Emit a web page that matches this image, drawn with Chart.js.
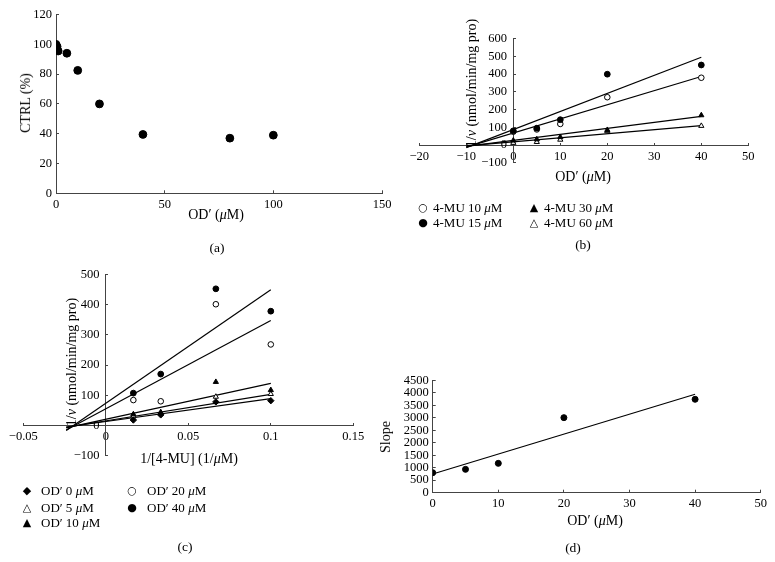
<!DOCTYPE html>
<html><head><meta charset="utf-8">
<script src="https://cdn.jsdelivr.net/npm/chart.js@4/dist/chart.umd.min.js"></script>
<style>
body{margin:0;background:#fff;}
#wrap{position:relative;width:775px;height:562px;overflow:hidden;font-family:"Liberation Serif","Times New Roman",serif;color:#000;}
canvas{position:absolute;left:0;top:0;}
.t{position:absolute;white-space:nowrap;font-size:14px;line-height:1;transform:translate(-50%,-50%);}
.r{transform:translate(-50%,-50%) rotate(-90deg);}
.lg{position:absolute;white-space:nowrap;font-size:13px;line-height:1;transform:translateY(-50%);}
.m{position:absolute;font-family:"DejaVu Sans";font-size:11px;line-height:1;transform:translate(-50%,-50%);}
</style></head>
<body>
<div id="wrap">
<canvas id="ca" width="775" height="562"></canvas>
<canvas id="cb" width="775" height="562"></canvas>
<canvas id="cc" width="775" height="562"></canvas>
<canvas id="cd" width="775" height="562"></canvas>

<div class="t r" style="left:26px;top:103px;">CTRL (%)</div>
<div class="t" style="left:216px;top:215px;">OD′ (<i>μ</i>M)</div>
<div class="t" style="left:217px;top:248px;font-size:13.5px;">(a)</div>

<div class="t r" style="left:472px;top:83px;">1/<i>v</i> (nmol/min/mg pro)</div>
<div class="t" style="left:583px;top:177px;">OD′ (<i>μ</i>M)</div>
<div class="t" style="left:583px;top:245px;font-size:13.5px;">(b)</div>
<span class="m" style="left:423px;top:207px;">○</span><span class="lg" style="left:433px;top:207px;">4-MU 10 <i>μ</i>M</span>
<span class="m" style="left:423px;top:222px;">●</span><span class="lg" style="left:433px;top:222px;">4-MU 15 <i>μ</i>M</span>
<span class="m" style="left:534px;top:207px;">▲</span><span class="lg" style="left:544px;top:207px;">4-MU 30 <i>μ</i>M</span>
<span class="m" style="left:534px;top:222px;">△</span><span class="lg" style="left:544px;top:222px;">4-MU 60 <i>μ</i>M</span>

<div class="t r" style="left:72px;top:362px;">1/<i>v</i> (nmol/min/mg pro)</div>
<div class="t" style="left:189px;top:459px;">1/[4-MU] (1/<i>μ</i>M)</div>
<div class="t" style="left:185px;top:547px;font-size:13.5px;">(c)</div>
<span class="m" style="left:27px;top:490px;">◆</span><span class="lg" style="left:41px;top:490px;">OD′ 0 <i>μ</i>M</span>
<span class="m" style="left:27px;top:507px;">△</span><span class="lg" style="left:41px;top:507px;">OD′ 5 <i>μ</i>M</span>
<span class="m" style="left:27px;top:522px;">▲</span><span class="lg" style="left:41px;top:522px;">OD′ 10 <i>μ</i>M</span>
<span class="m" style="left:132px;top:490px;">○</span><span class="lg" style="left:147px;top:490px;">OD′ 20 <i>μ</i>M</span>
<span class="m" style="left:132px;top:507px;">●</span><span class="lg" style="left:147px;top:507px;">OD′ 40 <i>μ</i>M</span>

<div class="t r" style="left:386px;top:437px;">Slope</div>
<div class="t" style="left:595px;top:521px;">OD′ (<i>μ</i>M)</div>
<div class="t" style="left:573px;top:548px;font-size:13.5px;">(d)</div>
</div>
<script>
// ---------- Panel (a) ----------
const odA = [0, 0.5, 1, 5, 10, 20, 40, 80, 100];
const ctrlA = [100, 98.5, 95.5, 94, 82.5, 60, 39.5, 37, 39];
const xTicksA = [0, 50, 100, 150];
const xLabelsA = ['0', '50', '100', '150'];
const yTicksA = [0, 20, 40, 60, 80, 100, 120];
const yLabelsA = ['0', '20', '40', '60', '80', '100', '120'];

// ---------- Panel (b) ----------
const odB = [0, 5, 10, 20, 40];
const mu10B = [75, 88, 119, 270, 380];
const mu15B = [80, 95, 143, 400, 452];
const mu30B = [25, 32, 45, 85, 168];
const mu60B = [12, 17, 30, 78, 108];
const fitXB = [-10, 40];
const fit10B = [-12, 387];
const fit15B = [-15, 496];
const fit30B = [-8, 162];
const fit60B = [-5, 110];
const xTicksB = [-20, -10, 0, 10, 20, 30, 40, 50];
const xLabelsB = ['−20', '−10', '0', '10', '20', '30', '40', '50'];
const yTicksB = [-100, 0, 100, 200, 300, 400, 500, 600];
const yLabelsB = ['−100', '0', '100', '200', '300', '400', '500', '600'];

// ---------- Panel (c) ----------
const invMuC = [0.0167, 0.0333, 0.0667, 0.1];
const od0C = [18, 35, 78, 82];
const od5C = [30, 40, 95, 104];
const od10C = [37, 44, 144, 117];
const od20C = [84, 80, 401, 268];
const od40C = [107, 170, 452, 378];
const fitXC = [-0.024, 0.1];
const fit0C = [-5, 89];
const fit5C = [-6, 103];
const fit10C = [-8, 139];
const fit20C = [-15, 347];
const fit40C = [-17, 449];
const xTicksC = [-0.05, 0, 0.05, 0.1, 0.15];
const xLabelsC = ['−0.05', '0', '0.05', '0.1', '0.15'];
const yTicksC = [-100, 0, 100, 200, 300, 400, 500];
const yLabelsC = ['−100', '0', '100', '200', '300', '400', '500'];

// ---------- Panel (d) ----------
const odD = [0, 5, 10, 20, 40];
const slopeD = [800, 935, 1175, 3005, 3740];
const fitXD = [0, 40];
const fitYD = [750, 3940];
const xTicksD = [0, 10, 20, 30, 40, 50];
const xLabelsD = ['0', '10', '20', '30', '40', '50'];
const yTicksD = [0, 500, 1000, 1500, 2000, 2500, 3000, 3500, 4000, 4500];
const yLabelsD = ['0', '500', '1000', '1500', '2000', '2500', '3000', '3500', '4000', '4500'];

// ---------- helpers ----------
const W = 775, H = 562;
const AX_W = 40, AX_H = 30;   // box reserved for edge axes
const pts = (xs, ys) => xs.map((x, i) => ({x: x, y: ys[i]}));

function scale(vals, labs, position) {
  const edge = typeof position === 'string';
  return {
    type: 'linear', min: vals[0], max: vals[vals.length - 1], position: position,
    afterBuildTicks: s => { s.ticks = vals.map(v => ({value: v})); },
    afterFit: s => {
      if (s.isHorizontal()) s.height = edge ? AX_H : 0;
      else s.width = edge ? AX_W : 0;
    },
    ticks: {
      callback: function (v) {
        const i = vals.indexOf(v);
        if (i < 0) return '';
        // centred vertical axes draw labels flush with the axis line: add a small gap
        return (!edge && !this.isHorizontal()) ? labs[i] + '  ' : labs[i];
      },
      color: '#000', font: {family: 'Liberation Serif', size: 12.5},
      padding: 7, autoSkip: false, maxRotation: 0, minRotation: 0
    },
    grid: {drawOnChartArea: false, drawTicks: true, tickLength: -3, tickColor: '#444', lineWidth: 1},
    border: {display: true, color: '#444', width: 1},
    title: {display: false}
  };
}

function scatterSet(data, style, filled, r) {
  return {type: 'scatter', data: data, pointStyle: style, pointRadius: r, pointHoverRadius: r,
    borderWidth: 1, borderColor: '#000', backgroundColor: filled ? '#000' : '#fff', showLine: false};
}
function lineSet(data) {
  return {type: 'line', data: data, borderColor: '#000', borderWidth: 1.2, pointRadius: 0,
    fill: false, tension: 0, showLine: true};
}

function makeChart(id, box, datasets, xs, ys, edge) {
  const pad = edge
    ? {left: box[0] - AX_W, top: box[2], right: W - box[1], bottom: H - box[3] - AX_H}
    : {left: box[0], top: box[2], right: W - box[1], bottom: H - box[3]};
  return new Chart(document.getElementById(id), {
    type: 'scatter',
    data: {datasets: datasets},
    options: {
      responsive: false, animation: false, devicePixelRatio: 1,
      layout: {padding: pad},
      plugins: {legend: {display: false}, tooltip: {enabled: false}, title: {display: false}},
      scales: {x: xs, y: ys}
    }
  });
}

// (a)
makeChart('ca', [56, 382, 13.3, 193.3],
  [scatterSet(pts(odA, ctrlA), 'circle', true, 3.9)],
  scale(xTicksA, xLabelsA, 'bottom'), scale(yTicksA, yLabelsA, 'left'), true);

// (b)
makeChart('cb', [419.3, 748.3, 38.8, 162.7],
  [
    scatterSet(pts(odB, mu15B), 'circle', true, 2.9),
    scatterSet(pts(odB, mu30B), 'triangle', true, 3),
    scatterSet(pts(odB, mu10B), 'circle', false, 2.8),
    scatterSet(pts(odB, mu60B), 'triangle', false, 3),
    lineSet(pts(fitXB, fit15B)), lineSet(pts(fitXB, fit10B)),
    lineSet(pts(fitXB, fit30B)), lineSet(pts(fitXB, fit60B))
  ],
  scale(xTicksB, xLabelsB, {y: 0}), scale(yTicksB, yLabelsB, {x: 0}), false);

// (c)
makeChart('cc', [23.3, 353.3, 274.3, 455.7],
  [
    scatterSet(pts(invMuC, od40C), 'circle', true, 2.9),
    scatterSet(pts(invMuC, od0C), 'rectRot', true, 3.2),
    scatterSet(pts(invMuC, od10C), 'triangle', true, 3),
    scatterSet(pts(invMuC, od20C), 'circle', false, 2.8),
    scatterSet(pts(invMuC, od5C), 'triangle', false, 3),
    lineSet(pts(fitXC, fit40C)), lineSet(pts(fitXC, fit20C)), lineSet(pts(fitXC, fit10C)),
    lineSet(pts(fitXC, fit5C)), lineSet(pts(fitXC, fit0C))
  ],
  scale(xTicksC, xLabelsC, {y: 0}), scale(yTicksC, yLabelsC, {x: 0}), false);

// (d)
makeChart('cd', [432.7, 760.7, 380.3, 492.7],
  [scatterSet(pts(odD, slopeD), 'circle', true, 3), lineSet(pts(fitXD, fitYD))],
  scale(xTicksD, xLabelsD, 'bottom'), scale(yTicksD, yLabelsD, 'left'), true);
</script>
</body></html>
